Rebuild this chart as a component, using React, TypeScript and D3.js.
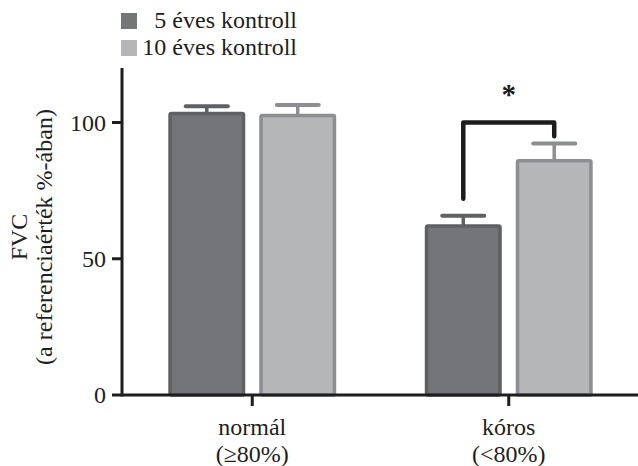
// FVC bar chart: 5 vs 10 year control, normal and pathological groups
import React, { useEffect, useRef } from 'react';
import * as d3 from 'd3';

const categories = ['normál', 'kóros'];
const categoryNotes = ['(≥80%)', '(<80%)'];
const series = ['5 éves kontroll', '10 éves kontroll'];
const values5 = [103.3, 62];
const values10 = [102.6, 86];
const errors5 = [2.7, 3.8];
const errors10 = [3.8, 6.3];
const yTicks = [0, 50, 100];
// significance bracket: [left end, top, right end] in FVC units
const bracket = [72, 100, 95];
const starLevel = 111.5;

const fills = ['#747578', '#b5b6b8'];
const strokes = ['#5f6063', '#8d8e91'];
const font = '"Liberation Serif", "Times New Roman", serif';
const fs = 24;

export default function App() {
  const ref = useRef<SVGSVGElement>(null);

  useEffect(() => {
    const svg = d3.select(ref.current);
    svg.selectAll('*').remove();

    const width = 638, height = 466;
    const left = 122, bottom = 395, top = 68;

    const y = d3.scaleLinear().domain([0, 120]).range([bottom, top]);
    const x = d3.scaleBand().domain(categories)
      .range([124, 637]).paddingInner(0.359).paddingOuter(0.1795);
    const xs = d3.scaleBand().domain(series)
      .range([0, x.bandwidth()]).paddingInner(0.192);

    svg.append('rect').attr('width', width).attr('height', height).attr('fill', '#fff');

    const rows = categories.map((c, i) => [
      { cat: c, s: series[0], v: values5[i], e: errors5[i], k: 0 },
      { cat: c, s: series[1], v: values10[i], e: errors10[i], k: 1 }
    ]).flat();

    const g = svg.append('g');
    rows.forEach(d => {
      const bx = (x(d.cat) as number) + (xs(d.s) as number);
      const cx = bx + xs.bandwidth() / 2;
      // error bar
      g.append('line')
        .attr('x1', cx).attr('x2', cx)
        .attr('y1', y(d.v)).attr('y2', y(d.v + d.e))
        .attr('stroke', strokes[d.k]).attr('stroke-width', 3.5);
      g.append('line')
        .attr('x1', cx - 21).attr('x2', cx + 21)
        .attr('y1', y(d.v + d.e)).attr('y2', y(d.v + d.e))
        .attr('stroke', strokes[d.k]).attr('stroke-width', 4)
        .attr('stroke-linecap', 'round');
      g.append('rect')
        .attr('x', bx).attr('y', y(d.v))
        .attr('width', xs.bandwidth()).attr('height', y(0) - y(d.v))
        .attr('rx', 1.5)
        .attr('fill', fills[d.k]).attr('stroke', strokes[d.k]).attr('stroke-width', 3.5);
    });

    // bracket over the kóros group
    const c0 = (x('kóros') as number) + (xs(series[0]) as number) + xs.bandwidth() / 2;
    const c1 = (x('kóros') as number) + (xs(series[1]) as number) + xs.bandwidth() / 2;
    svg.append('path')
      .attr('d', `M${c0},${y(bracket[0])}V${y(bracket[1])}H${c1}V${y(bracket[2])}`)
      .attr('fill', 'none').attr('stroke', '#1c1c1c').attr('stroke-width', 4.5)
      .attr('stroke-linejoin', 'round').attr('stroke-linecap', 'round');
    svg.append('text')
      .attr('x', (x('kóros') as number) + x.bandwidth() / 2)
      .attr('y', y(starLevel) + 13)
      .attr('text-anchor', 'middle')
      .attr('font-family', font).attr('font-size', 29).attr('font-weight', 'bold')
      .attr('fill', '#1c1c1c')
      .text('*');

    // axes
    const axisColor = '#1e1e1e';
    svg.append('line')
      .attr('x1', left).attr('x2', left).attr('y1', top).attr('y2', bottom + 1.5)
      .attr('stroke', axisColor).attr('stroke-width', 3);
    svg.append('line')
      .attr('x1', left).attr('x2', width).attr('y1', bottom).attr('y2', bottom)
      .attr('stroke', axisColor).attr('stroke-width', 3);

    yTicks.forEach(t => {
      svg.append('line')
        .attr('x1', left - 10).attr('x2', left).attr('y1', y(t)).attr('y2', y(t))
        .attr('stroke', axisColor).attr('stroke-width', 3);
      svg.append('text')
        .attr('x', left - 16).attr('y', y(t)).attr('dy', '0.34em')
        .attr('text-anchor', 'end')
        .attr('font-family', font).attr('font-size', fs).attr('fill', '#1e1e1e')
        .text(t);
    });

    categories.forEach((c, i) => {
      const cx = (x(c) as number) + x.bandwidth() / 2;
      svg.append('line')
        .attr('x1', cx).attr('x2', cx).attr('y1', bottom).attr('y2', bottom + 11)
        .attr('stroke', axisColor).attr('stroke-width', 3);
      svg.append('text')
        .attr('x', cx).attr('y', 435).attr('text-anchor', 'middle')
        .attr('font-family', font).attr('font-size', fs).attr('fill', '#1e1e1e')
        .text(c);
      svg.append('text')
        .attr('x', cx).attr('y', 462).attr('text-anchor', 'middle')
        .attr('font-family', font).attr('font-size', fs).attr('fill', '#1e1e1e')
        .text(categoryNotes[i]);
    });

    // y axis title
    const yl = svg.append('g').attr('transform', 'translate(0,237) rotate(-90)');
    yl.append('text').attr('x', 0).attr('y', 27).attr('text-anchor', 'middle')
      .attr('font-family', font).attr('font-size', fs).attr('fill', '#1e1e1e')
      .text('FVC');
    yl.append('text').attr('x', 0).attr('y', 52).attr('text-anchor', 'middle')
      .attr('font-family', font).attr('font-size', fs).attr('fill', '#1e1e1e')
      .text('(a referenciaérték %-ában)');

    // legend
    series.forEach((s, i) => {
      svg.append('rect')
        .attr('x', 121).attr('y', 13 + i * 27).attr('width', 16).attr('height', 16)
        .attr('fill', fills[i]);
      svg.append('text')
        .attr('x', 297).attr('y', 28 + i * 27).attr('text-anchor', 'end')
        .attr('font-family', font).attr('font-size', fs).attr('fill', '#1e1e1e')
        .text(s);
    });
  }, []);

  return (
    <svg ref={ref} width={638} height={466}
      style={{ position: 'absolute', left: 0, top: 0, background: '#fff' }} />
  );
}
